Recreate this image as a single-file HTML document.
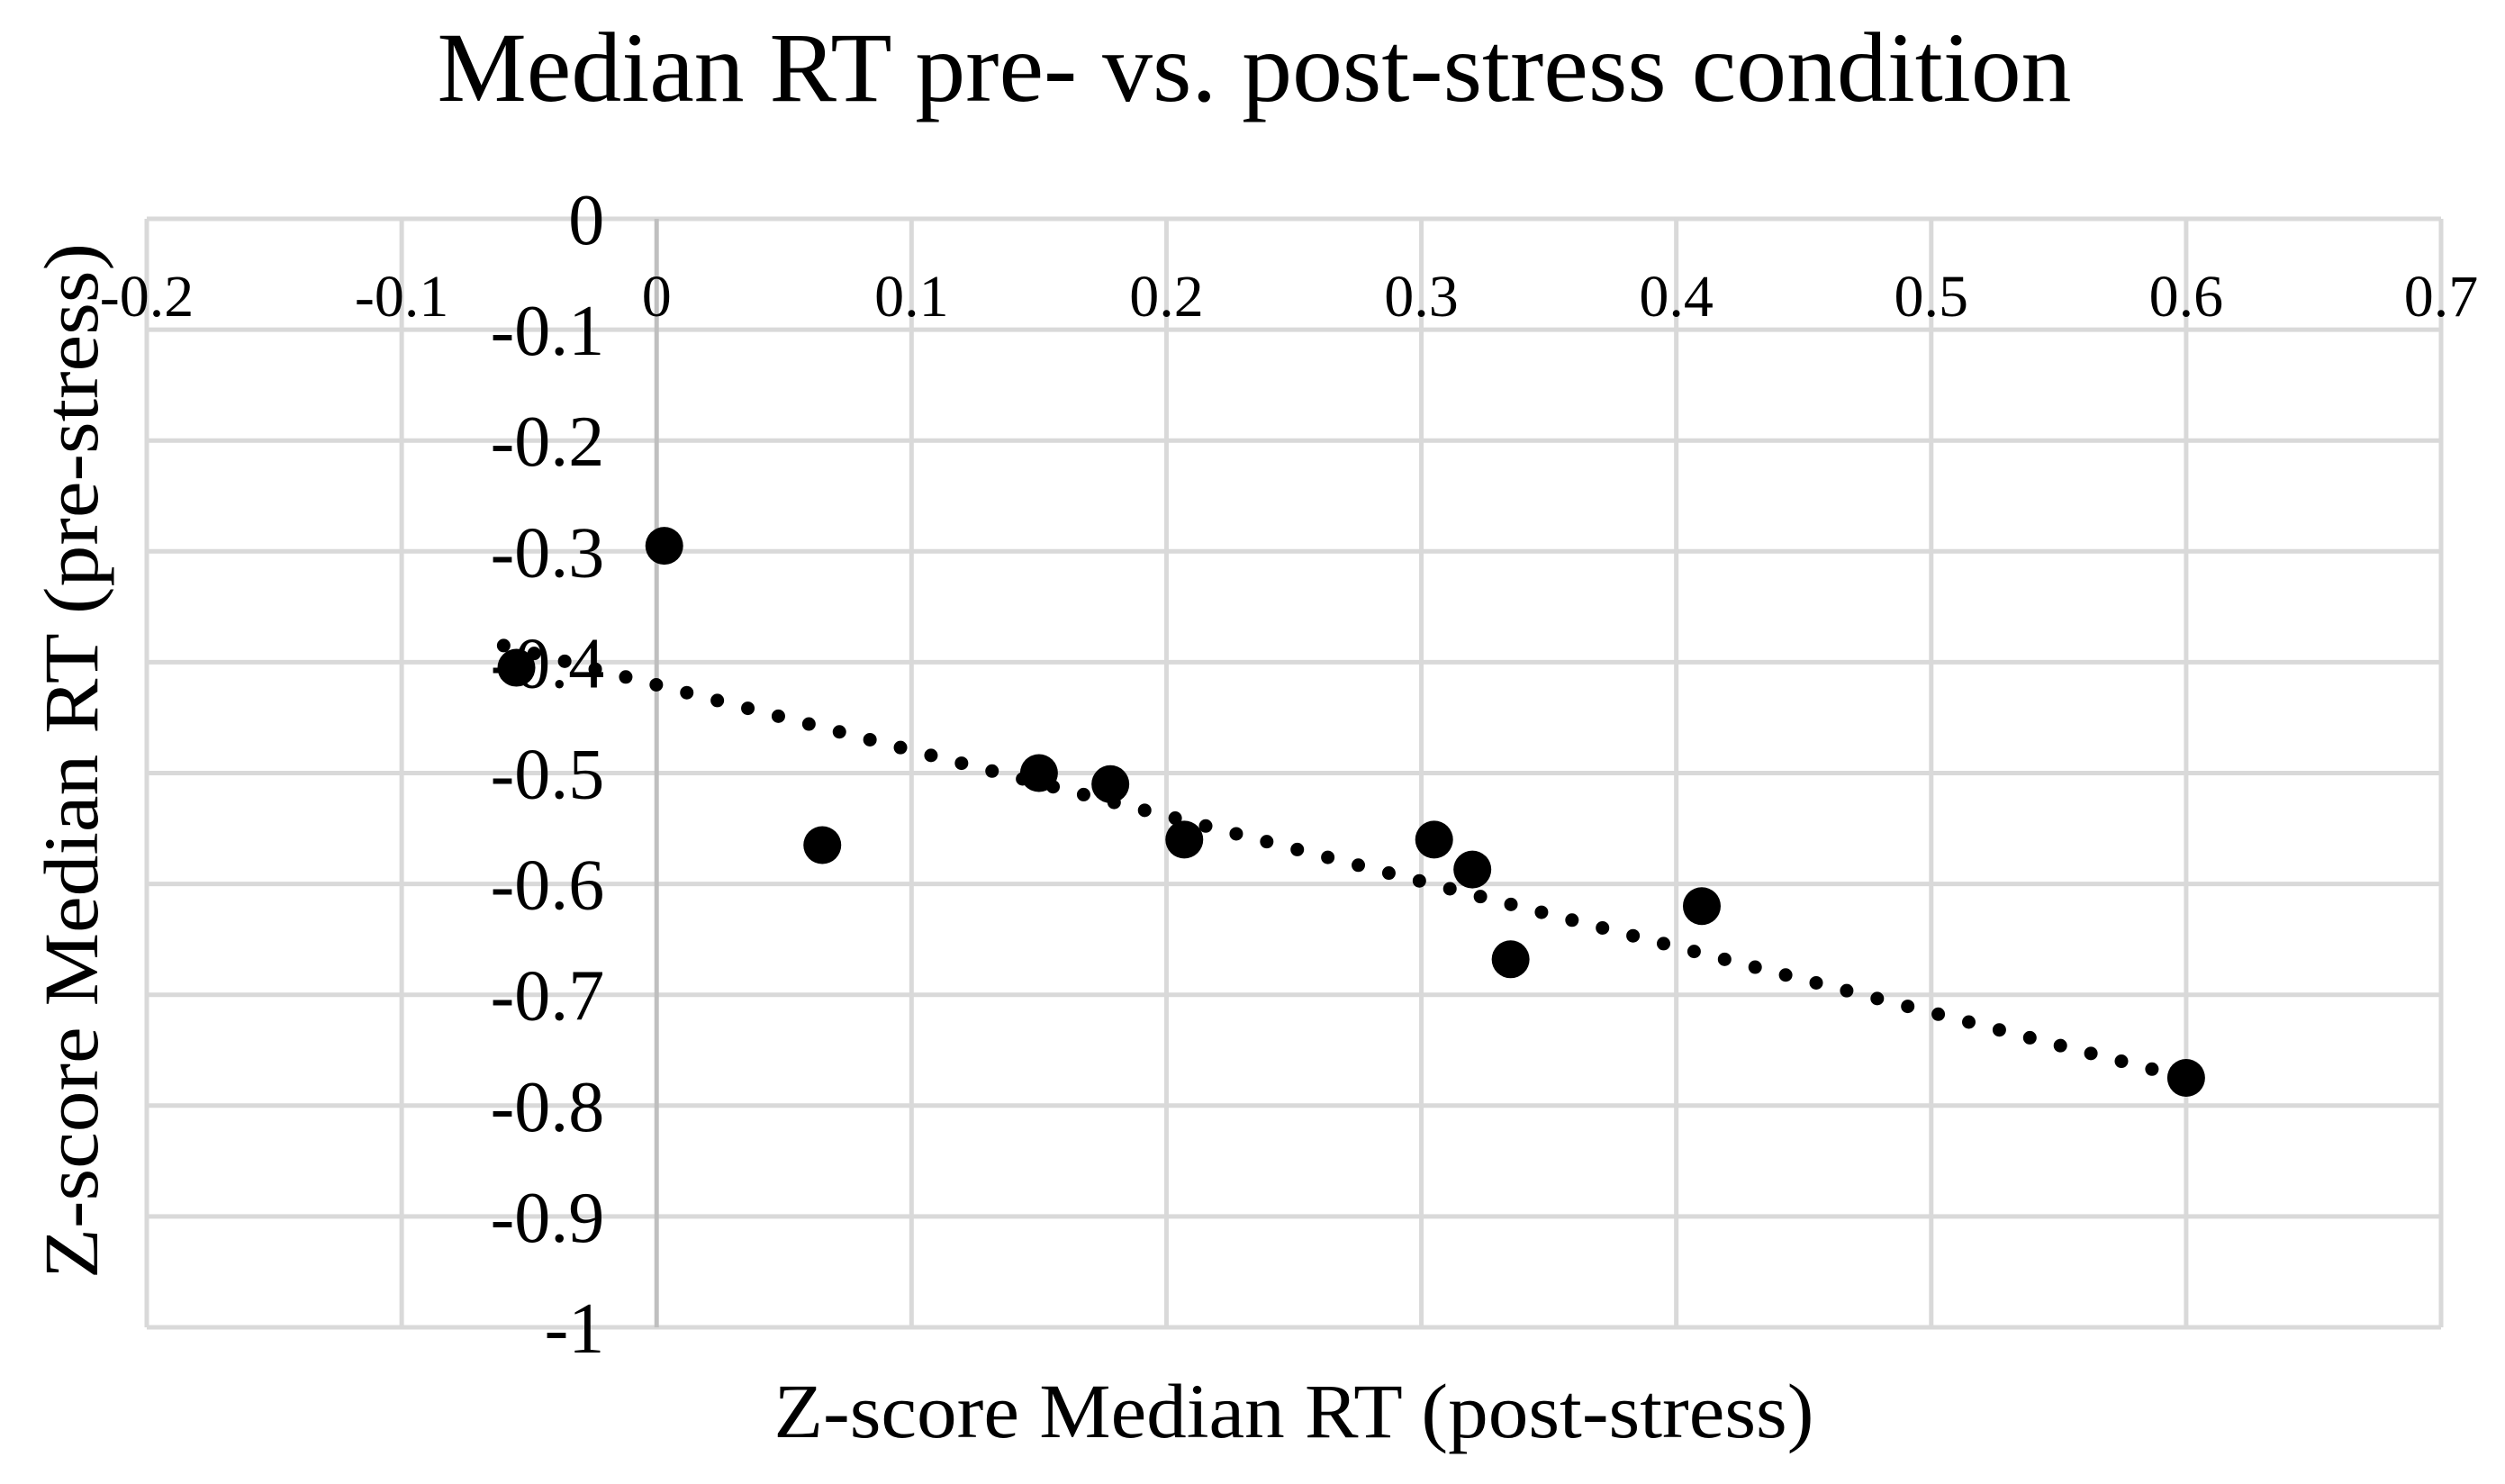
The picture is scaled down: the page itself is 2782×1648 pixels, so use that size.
<!DOCTYPE html>
<html><head><meta charset="utf-8"><style>
html,body{margin:0;padding:0;background:#fff}
svg{display:block}
text{font-family:"Liberation Serif",serif;fill:#000}
</style></head><body>
<svg id="chart" width="2782" height="1648" viewBox="0 0 2782 1648" xmlns="http://www.w3.org/2000/svg">
<text x="1393" y="112" font-size="110" text-anchor="middle" textLength="1815" lengthAdjust="spacingAndGlyphs">Median RT pre- vs. post-stress  condition</text>
<g id="grid"></g>
<g id="ticks"></g>
<g id="trend"></g>
<g id="points"></g>
<text x="1437" y="1596" font-size="86" text-anchor="middle" textLength="1155" lengthAdjust="spacingAndGlyphs">Z-score Median RT (post-stress)</text>
<text x="0" y="0" font-size="86" text-anchor="middle" textLength="1150" lengthAdjust="spacingAndGlyphs" transform="translate(108,845) rotate(-90)">Z-score Median RT (pre-stress)</text>
</svg>
<script>
const xTicks=[-0.2,-0.1,0,0.1,0.2,0.3,0.4,0.5,0.6,0.7];
const xTickLabels=["-0.2","-0.1","0","0.1","0.2","0.3","0.4","0.5","0.6","0.7"];
const yTicks=[0,-0.1,-0.2,-0.3,-0.4,-0.5,-0.6,-0.7,-0.8,-0.9,-1];
const yTickLabels=["0","-0.1","-0.2","-0.3","-0.4","-0.5","-0.6","-0.7","-0.8","-0.9","-1"];
const postStress=[0.003,-0.055,0.065,0.15,0.178,0.207,0.305,0.32,0.335,0.41,0.6];
const preStress=[-0.295,-0.405,-0.565,-0.5,-0.51,-0.56,-0.56,-0.587,-0.668,-0.62,-0.775];
const trendX=[-0.06,0.6];
const trendY=[-0.385,-0.775];

const L=163,R=2711,T=243,B=1474;
const sx=v=>L+(v-(-0.2))/(0.9)*(R-L);
const sy=v=>T+(0-v)/1*(B-T);
const NS="http://www.w3.org/2000/svg";
function mk(tag,parent,attrs){const e=document.createElementNS(NS,tag);for(const k in attrs)e.setAttribute(k,attrs[k]);parent.appendChild(e);return e;}
const grid=document.getElementById('grid'),ticks=document.getElementById('ticks'),trend=document.getElementById('trend'),pts=document.getElementById('points');
yTicks.forEach((v,i)=>{
  const l=mk('line',grid,{x1:L,x2:R,y1:sy(v),y2:sy(v),stroke:'#d9d9d9','stroke-width':5});
  
  
  const t=mk('text',ticks,{x:sx(0)-58,y:sy(v)+28,'font-size':80,'text-anchor':'end'});
  t.textContent=yTickLabels[i];
  
  
});
xTicks.forEach((v,i)=>{
  const l=mk('line',grid,{x1:sx(v),x2:sx(v),y1:T,y2:B,stroke:v===0?'#bfbfbf':'#d9d9d9','stroke-width':5});
  
  
  const t=mk('text',ticks,{x:sx(v),y:sy(0)+108,'font-size':66,'text-anchor':'middle'});
  t.textContent=xTickLabels[i];
  
  
});
const tl=mk('line',trend,{x1:sx(trendX[0]),y1:sy(trendY[0]),x2:sx(trendX[1]),y2:sy(trendY[1]),stroke:'#000','stroke-width':15,'stroke-linecap':'round','stroke-dasharray':'0 35'});


postStress.forEach((x,i)=>{
  const c=mk('circle',pts,{cx:sx(x),cy:sy(preStress[i]),r:21,fill:'#000'});
  
  
});
</script>
</body></html>
